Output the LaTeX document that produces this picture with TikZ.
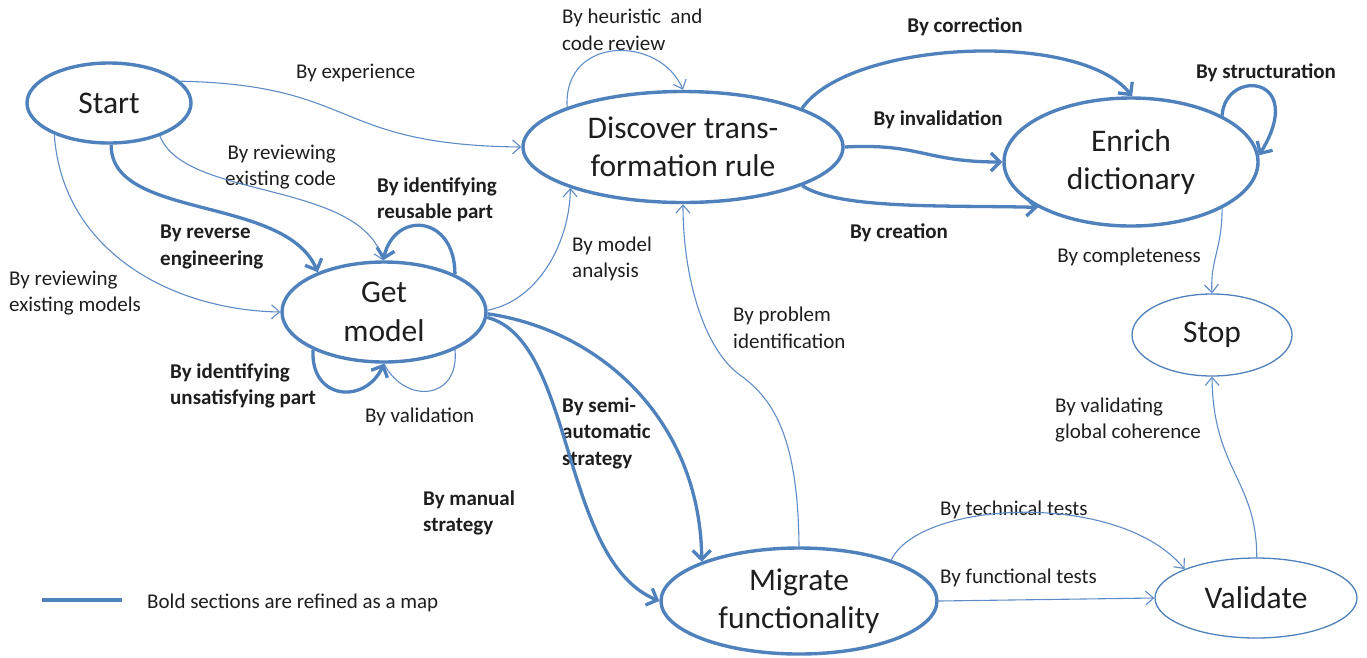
\documentclass[tikz,border=0pt]{standalone}
\usepackage{fontspec}
\setmainfont{Carlito}
\usetikzlibrary{shapes.geometric,arrows.meta}
\definecolor{eblue}{RGB}{79,129,189}
\definecolor{tblue}{RGB}{95,140,198}
\definecolor{txt}{RGB}{30,30,30}
\begin{document}
\begin{tikzpicture}[x=1pt,y=-1pt,
  state/.style={ellipse,draw=eblue,line width=3.4pt,inner sep=0pt,align=center,
    font=\fontsize{31.5}{38.5}\selectfont,text=txt,fill=white},
  lstate/.style={state,line width=1.3pt},
  thk/.style={draw=eblue,line width=3.3pt,-{Straight Barb[length=9pt,width=18pt]}},
  thn/.style={draw=tblue,line width=1.1pt,-{Straight Barb[length=8pt,width=14pt]}},
  lbl/.style={font=\fontsize{21}{26.5}\selectfont,text=txt,align=left,inner sep=0pt},
  blbl/.style={lbl,font=\fontsize{21}{26.5}\selectfont\bfseries},
]
\useasboundingbox (0,0) rectangle (1367,657);

% states
\node[state, minimum width=164pt, minimum height=80pt] (start) at (109,103) {Start};
\node[state, minimum width=204pt, minimum height=100pt] (get) at (384,312) {Get\\model};
\node[state, minimum width=320pt, minimum height=111pt] (disc) at (683,147) {Discover trans-\\formation rule};
\node[state, minimum width=254pt, minimum height=128pt] (enr) at (1131,162) {Enrich\\dictionary};
\node[lstate, minimum width=160pt, minimum height=82pt] (stop) at (1212,335) {Stop};
\node[lstate, minimum width=202pt, minimum height=80pt] (val) at (1256,598) {Validate};
\node[state, minimum width=276pt, minimum height=106pt] (mig) at (799,601) {Migrate\\functionality};

% labels
\node[lbl, anchor=west] (lexp) at (296,73) {By experience};
\node[lbl, anchor=east, align=right] (lcode) at (336,167) {By reviewing\\existing code};
\node[blbl, anchor=west] (lrev) at (160,247) {By reverse\\engineering};
\node[lbl, anchor=west] (lmod) at (9,293) {By reviewing\\existing models};
\node[blbl, anchor=west] (lreu) at (377,200) {By identifying\\reusable part};
\node[blbl, anchor=west] (luns) at (170,386) {By identifying\\unsatisfying part};
\node[lbl, anchor=west] (lval) at (365,417) {By validation};
\node[lbl, anchor=west] (lana) at (572,259) {By model\\analysis};
\node[lbl, anchor=west] (lheu) at (562,30) {By heuristic~ and\\code review};
\node[blbl] (lcor) at (965,27) {By correction};
\node[blbl] (linv) at (938,120) {By invalidation};
\node[blbl] (lcre) at (899,233) {By creation};
\node[blbl] (lstr) at (1266,73) {By structuration};
\node[lbl] (lcom) at (1129,257) {By completeness};
\node[lbl, anchor=west] (lglo) at (1055,420) {By validating\\global coherence};
\node[lbl, anchor=west] (ltec) at (940,510) {By technical tests};
\node[lbl, anchor=west] (lfun) at (940,578) {By functional tests};
\node[lbl, anchor=west] (lpro) at (733,328) {By problem\\identification};
\node[blbl, anchor=west] (lsem) at (562,433) {By semi-\\automatic\\strategy};
\node[blbl, anchor=west] (lman) at (423,513) {By manual\\strategy};

% edges from Start
\draw[thn] (start.17) .. controls (360,85) and (330,145) .. (disc.180);
\draw[thn] (start.-33) .. controls (185,200) and (360,180) .. (get.91);
\draw[thk] (start.-87) .. controls (110,220) and (285,195) .. (get.149);
\draw[thn] (start.-150) .. controls (62,250) and (170,310) .. (get.180);

% Get model loops
\draw[thk] (get.28) .. controls (455,215) and (395,210) .. (get.91);
\draw[draw=tblue,line width=1.1pt] (get.-28) .. controls (460,400) and (405,405) .. (get.-90);
\draw[thk] (get.-152) .. controls (310,400) and (365,405) .. (get.-90);

% Get model outgoing
\draw[thn] (get.1) .. controls (540,300) and (570,240) .. (disc.-160);
\draw[thk] (get.-1) .. controls (600,330) and (700,420) .. (mig.158);
\draw[thk] (get.-3) .. controls (575,340) and (560,560) .. (mig.180);

% Discover
\draw[thn] (disc.161) .. controls (563,35) and (660,35) .. (disc.90);
\draw[thk] (disc.18) .. controls (850,40) and (1080,30) .. (enr.89);
\draw[thk] (disc.0) .. controls (920,143) and (925,162) .. (enr.180);
\draw[thk] (disc.-18) .. controls (840,210) and (950,205) .. (enr.-154);

% Enrich
\draw[thk] (enr.27) .. controls (1225,68) and (1308,75) .. (enr.3);
\draw[thn] (enr.-27) .. controls (1222,250) and (1210,260) .. (stop.90);

% Migrate / Validate
\draw[thn] (mig.90) .. controls (798,440) and (775,400) .. (740,375)
  .. controls (705,350) and (683,280) .. (disc.-90);
\draw[thn] (mig.24) .. controls (920,500) and (1120,490) .. (val.158);
\draw[thn] (mig.0) -- (val.180);
\draw[thn] (val.89) .. controls (1257,480) and (1213,470) .. (stop.-90);

% legend
\coordinate (l1) at (42,600);
\coordinate (l2) at (122,600);
\draw[draw=eblue, line width=3.3pt] (l1) -- (l2);
\node[lbl, anchor=west] (legend) at (147,603) {Bold sections are refined as a map};
\end{tikzpicture}
\end{document}
